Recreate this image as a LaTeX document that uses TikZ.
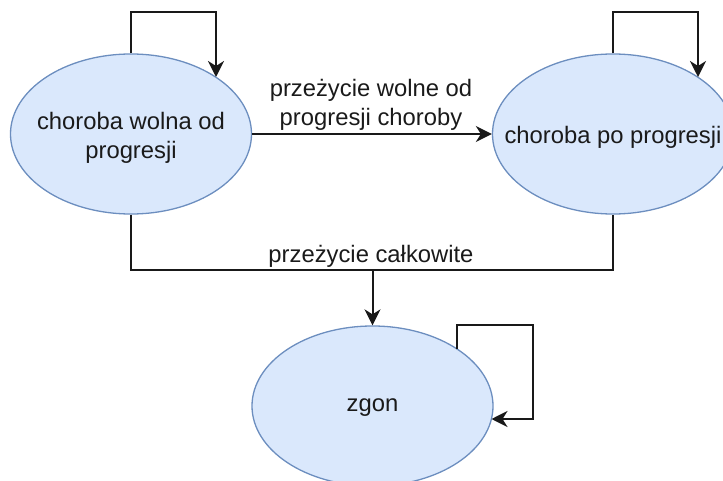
\documentclass[tikz,border=0pt]{standalone}
\usepackage{fontspec}
\setmainfont{Liberation Sans}
\usetikzlibrary{shapes.geometric,arrows.meta,calc}
\definecolor{efill}{HTML}{DAE8FC}
\definecolor{edraw}{HTML}{6C8EBF}
\definecolor{txt}{HTML}{1A1A1A}
\tikzset{
  state/.style={ellipse, draw=edraw, fill=efill, line width=1.3pt,
    minimum width=241pt, minimum height=160pt, inner sep=0pt},
  lbl/.style={font=\fontsize{23.8}{29}\selectfont, text=txt, align=center},
  conn/.style={draw=black!90, line width=2pt,
    -{Stealth[length=16pt,width=16pt,inset=5pt]}},
  plain/.style={draw=black!90, line width=2pt}
}
\begin{document}
\begin{tikzpicture}[x=1pt,y=-1pt]
\useasboundingbox (0,0) rectangle (723,481);
\node[state] (e1) at (131,134) {};
\node[state] (e2) at (613,134) {};
\node[state] (e3) at (372.5,406) {};
\node[lbl] (t1) at (131,138) {choroba wolna od\\progresji};
\node[lbl] (t2) at (613,137) {choroba po progresji};
\node[lbl] (t3) at (372.5,408) {zgon};
% self loops
\coordinate (e1in) at ($(e1.center)+(85,-57)$);
\coordinate (e2in) at ($(e2.center)+(85,-57)$);
\coordinate (e3out) at ($(e3.center)+(84.5,-56.7)$);
\coordinate (e3in) at ($(e3.center)+(119,13)$);
\draw[conn] (e1.north) -- ++(0,-41) -| (e1in);
\draw[conn] (e2.north) -- ++(0,-41) -| (e2in);
\draw[conn] (e3out) |- ++(76,-24) |- (e3in);
% transitions
\draw[conn] (e1.east) -- (e2.west);
\node[lbl] (l1) at (371,105) {przeżycie wolne od\\progresji choroby};
\coordinate (j) at (e3.north |- 0,270);
\draw[plain] (e1.south) |- (j) -| (e2.south);
\draw[conn] (j) -- (e3.north);
\node[lbl, anchor=south] (l2) at (371,270.5) {przeżycie całkowite};
\end{tikzpicture}
\end{document}
